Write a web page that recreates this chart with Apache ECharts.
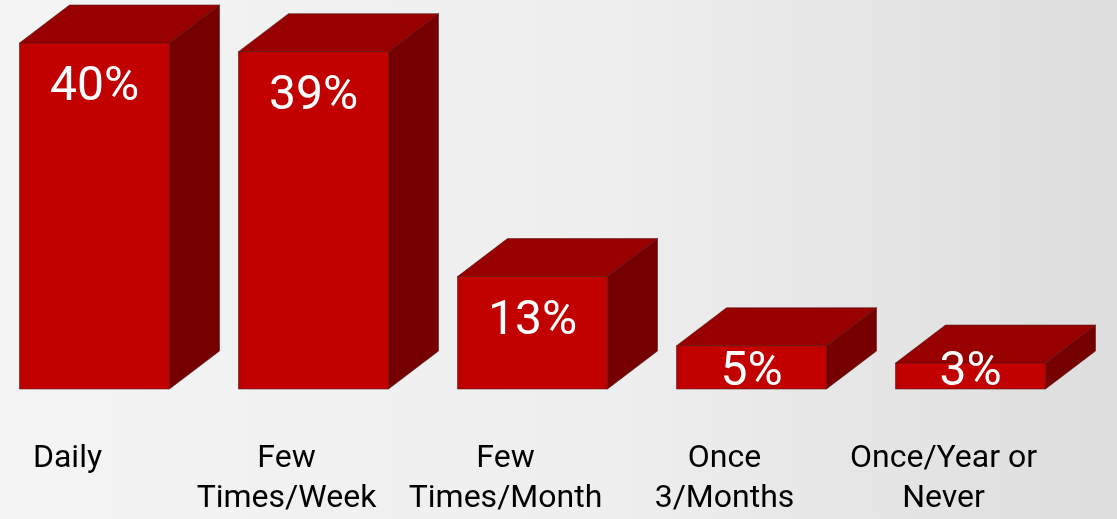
<!DOCTYPE html>
<html>
<head>
<meta charset="utf-8">
<style>
  html, body { margin: 0; padding: 0; }
  #chart { width: 1117px; height: 519px; }
</style>
<script src="https://cdn.jsdelivr.net/npm/echarts@6/dist/echarts.min.js"></script>
</head>
<body>
<div id="chart"></div>
<script>
// Survey: how often respondents do it (share of answers, %)
const categories = ['Daily', 'Few\nTimes/Week', 'Few\nTimes/Month', 'Once\n3/Months', 'Once/Year or\nNever'];
const shares = [40, 39, 13, 5, 3];

// Box faces
const FRONT = '#c30000';
const TOP = '#980000';
const SIDE = '#760000';
const EDGE = 'rgba(80,20,20,0.55)';
const DEPTH_X = 50;
const DEPTH_Y = 38;

const chart = echarts.init(document.getElementById('chart'));

function renderBox(params, api) {
  const idx = api.value(0);
  const val = api.value(1);
  const base = api.coord([idx, 0]);
  const top = api.coord([idx, val]);
  const band = api.size([1, 0])[0];
  const x0 = base[0] - band * 0.411;
  const w = band * 0.685;
  const x1 = x0 + w;
  const yb = base[1];
  const yt = top[1];

  const front = [[x0, yt], [x1, yt], [x1, yb], [x0, yb]];
  const topFace = [[x0, yt], [x0 + DEPTH_X, yt - DEPTH_Y], [x1 + DEPTH_X, yt - DEPTH_Y], [x1, yt]];
  const side = [[x1, yt], [x1 + DEPTH_X, yt - DEPTH_Y], [x1 + DEPTH_X, yb - DEPTH_Y], [x1, yb]];

  const labelY = Math.min(yt + 45, yb - 16);

  return {
    type: 'group',
    children: [
      { type: 'polygon', shape: { points: side }, style: { fill: SIDE, stroke: EDGE, lineWidth: 1 } },
      { type: 'polygon', shape: { points: topFace }, style: { fill: TOP, stroke: EDGE, lineWidth: 1 } },
      {
        type: 'polygon', shape: { points: front },
        style: {
          fill: {
            type: 'linear', x: 0, y: 0, x2: 1, y2: 0,
            colorStops: [
              { offset: 0, color: '#b80000' },
              { offset: 0.08, color: FRONT },
              { offset: 1, color: FRONT }
            ]
          },
          stroke: EDGE, lineWidth: 1
        }
      },
      {
        type: 'text',
        x: x0 + w / 2,
        y: labelY,
        style: {
          text: val + '%',
          fill: '#ffffff',
          font: '48px Roboto',
          align: 'center',
          verticalAlign: 'middle'
        }
      }
    ]
  };
}

chart.setOption({
  backgroundColor: {
    type: 'linear', x: 0, y: 0, x2: 1, y2: 0,
    colorStops: [
      { offset: 0, color: '#f4f4f4' },
      { offset: 0.55, color: '#eeeeee' },
      { offset: 1, color: '#dddddd' }
    ]
  },
  animation: false,
  grid: { left: 0, right: 22, top: 43, bottom: 130, outerBoundsMode: 'none', containLabel: false },
  xAxis: {
    type: 'category',
    data: categories,
    axisLine: { show: false },
    axisTick: { show: false },
    axisLabel: {
      interval: 0,
      margin: 50,
      color: '#000000',
      fontFamily: 'Roboto',
      fontSize: 32,
      lineHeight: 40,
      padding: [0, 84, 0, 0]
    }
  },
  yAxis: { type: 'value', min: 0, max: 40, show: false },
  series: [{
    type: 'custom',
    renderItem: renderBox,
    clip: false,
    data: shares.map((v, i) => [i, v])
  }]
});
</script>
</body>
</html>
